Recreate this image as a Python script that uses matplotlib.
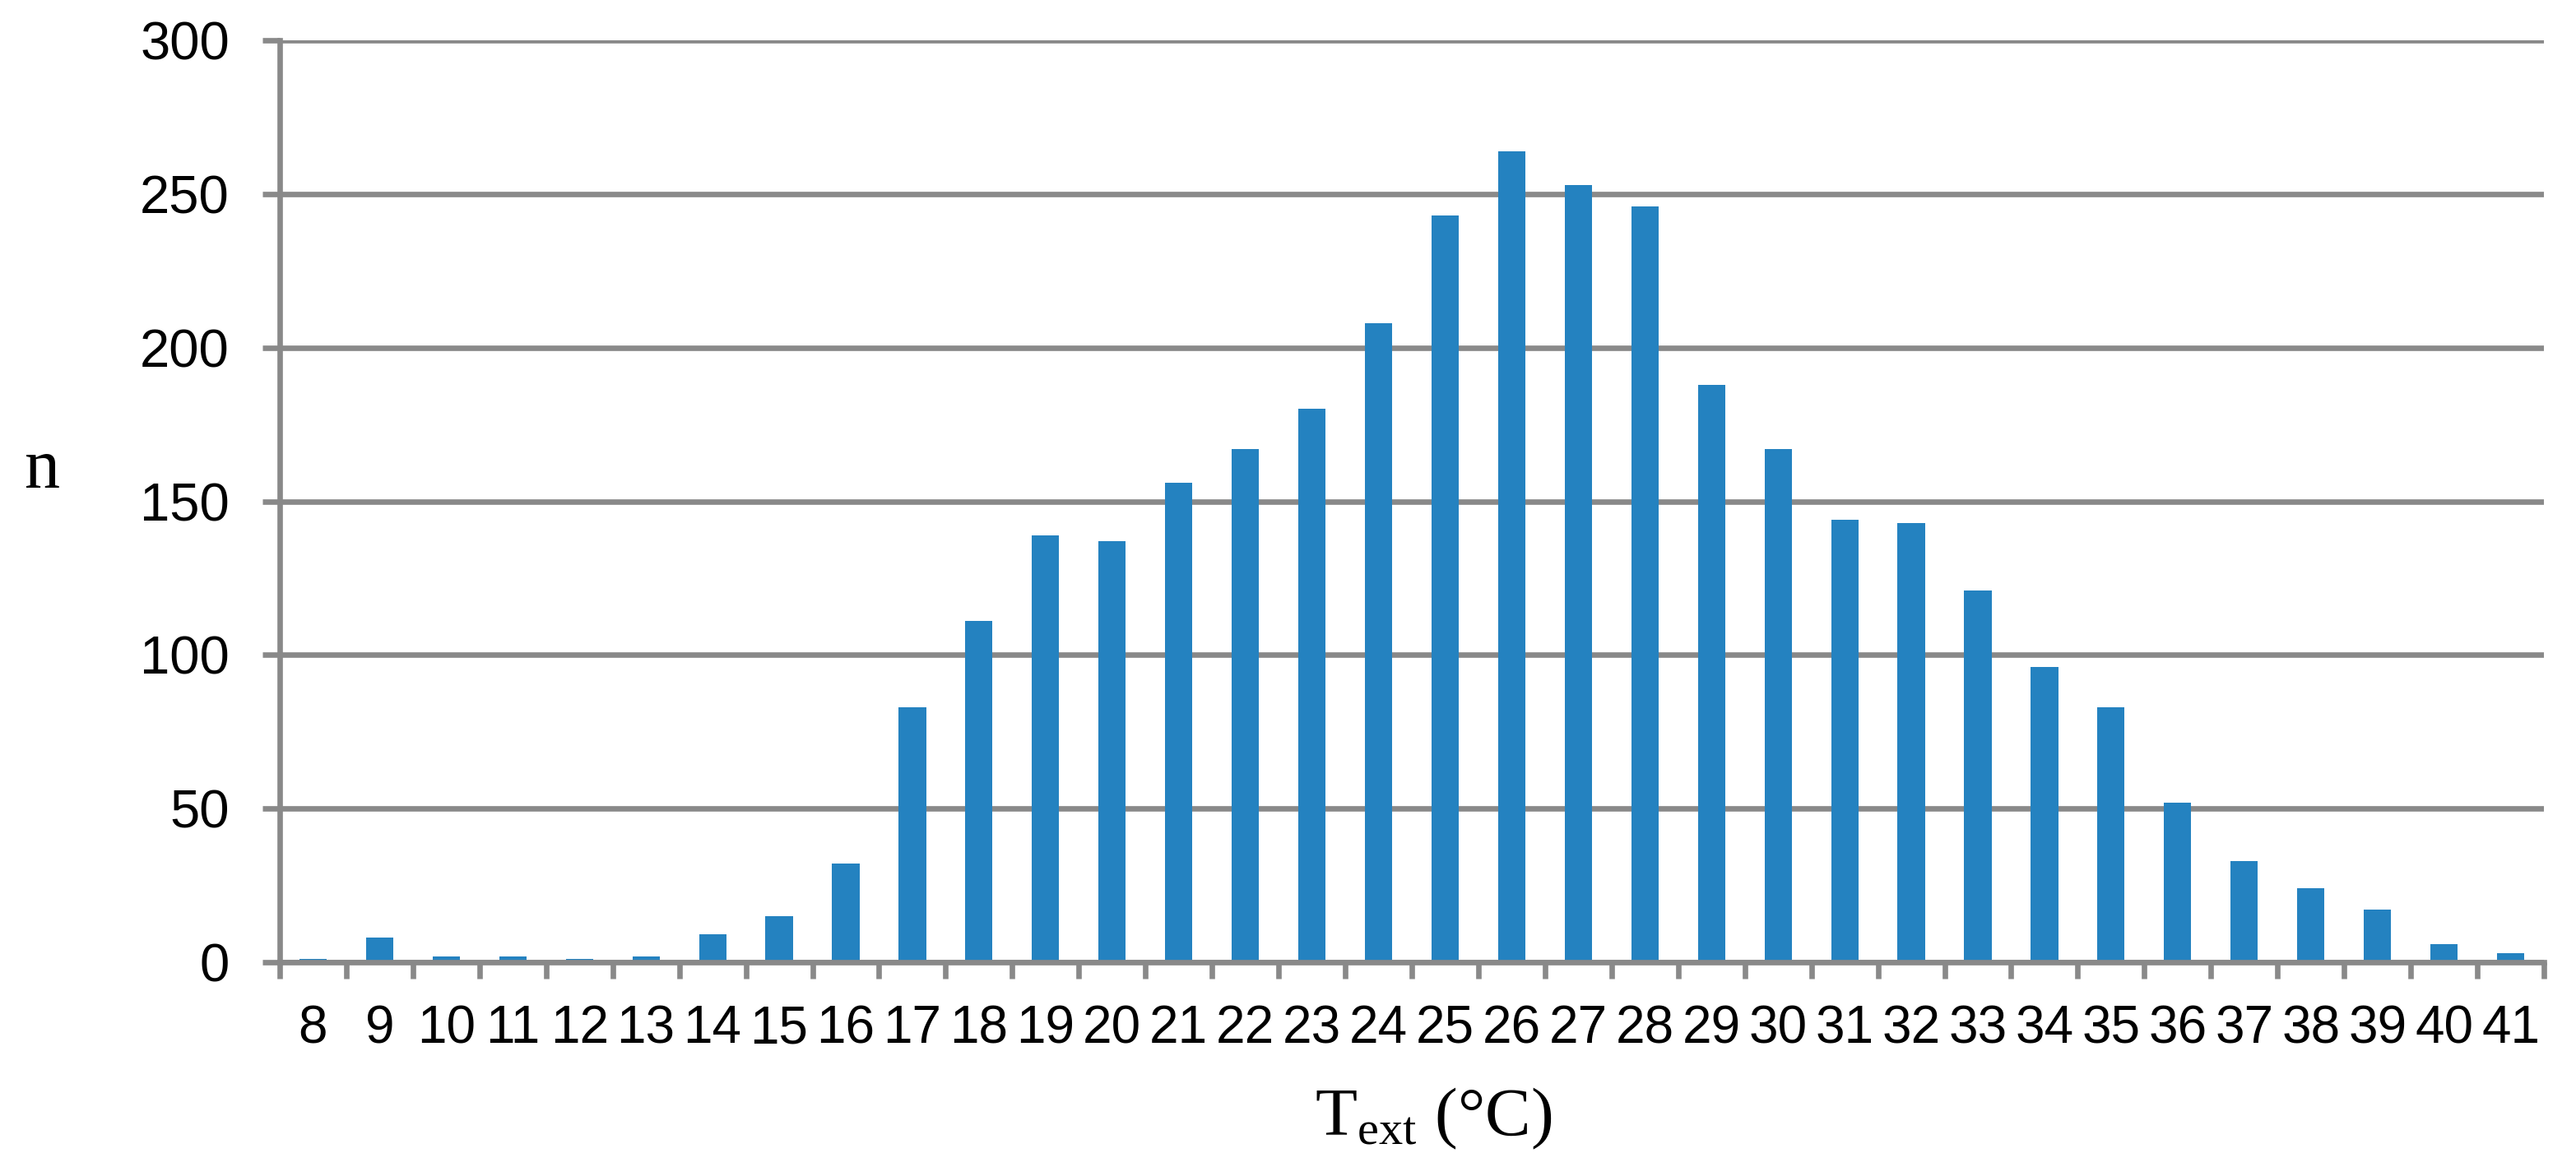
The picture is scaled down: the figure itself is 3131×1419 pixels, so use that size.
import numpy as np
import matplotlib
matplotlib.use("Agg")
import matplotlib.pyplot as plt
from matplotlib import font_manager

# outdoor temperature classes (°C) and number of occurrences
temps = list(range(8, 42))
counts = [1, 8, 2, 2, 1, 2, 9, 15, 32, 83, 111, 139, 137, 156, 167, 180, 208,
          243, 264, 253, 246, 188, 167, 144, 143, 121, 96, 83, 52, 33, 24, 17, 6, 3]
yticks = [0, 50, 100, 150, 200, 250, 300]

names = {f.name for f in font_manager.fontManager.ttflist}
if "Liberation Sans Narrow" in names:
    xfont, xsize = "Liberation Sans Narrow", 48
else:
    xfont, xsize = "Liberation Sans", 46

grey = "#898989"
blue = "#2482C0"
lw = 4.8

fig = plt.figure(figsize=(31.31, 14.19), dpi=100)
ax = fig.add_axes([340 / 3131, 1 - 1170 / 1419, 2752 / 3131, 1121 / 1419])

x = np.arange(len(temps))
ax.bar(x, counts, width=0.41, color=blue, zorder=3)

ax.set_ylim(0, 300)
ax.set_xlim(-0.5, len(temps) - 0.5)
ax.set_yticks(yticks)
ax.set_yticklabels([str(v) for v in yticks], fontfamily="Liberation Sans", fontsize=47)
ax.yaxis.grid(True, color=grey, linewidth=lw, zorder=0)

ax.set_xticks(x)
ax.set_xticklabels([str(t) for t in temps], fontfamily=xfont, fontsize=xsize)
ax.set_xticks(np.arange(len(temps) + 1) - 0.5, minor=True)
ax.tick_params(axis="x", which="major", length=0, pad=37)
ax.tick_params(axis="x", which="minor", length=14.5, width=lw, color=grey, direction="out")
ax.tick_params(axis="y", length=15, width=lw, color=grey, direction="out", pad=29)

for s in ["top", "right"]:
    ax.spines[s].set_visible(False)
ax.spines["left"].set_color(grey)
ax.spines["left"].set_linewidth(lw)
ax.spines["bottom"].set_color(grey)
ax.spines["bottom"].set_linewidth(lw)
ax.spines["bottom"].set_zorder(4)

fig.text(51 / 3131, 1 - 593 / 1419, "n", fontfamily="Liberation Serif", fontsize=62,
         ha="center", va="baseline")
fig.text(1742 / 3131, 1 - 1380 / 1419, r"$\mathregular{T_{ext}}$ (°C)",
         fontfamily="Liberation Serif", fontsize=60, ha="center", va="baseline")

fig.savefig("out.png", dpi=100)
